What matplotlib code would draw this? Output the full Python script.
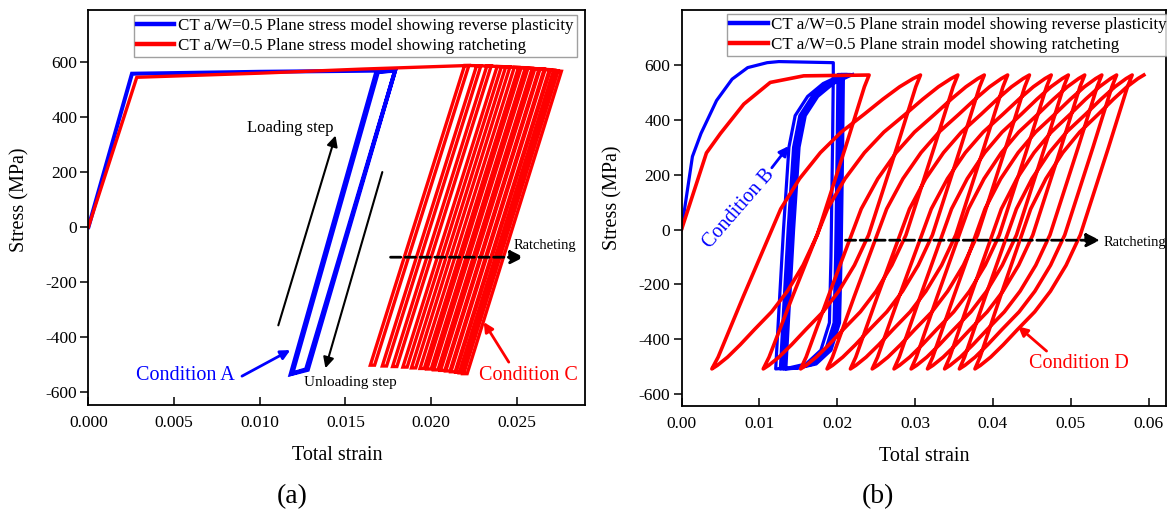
import numpy as np
import matplotlib.pyplot as plt

plt.rcParams['font.family'] = ['Liberation Serif', 'DejaVu Serif']
plt.rcParams['axes.unicode_minus'] = False

BLUE = '#0000ff'
RED = '#ff0000'

# ---------------- (a) plane stress ----------------
# reverse plasticity: monotonic loading then a stable thin loop
ps_rp_strain = [0.0, 0.00254, 0.0100, 0.0150, 0.0179, 0.0127, 0.0119, 0.0169, 0.0179,
                0.0128, 0.0118, 0.0168, 0.0177]
ps_rp_stress = [0, 558, 565, 568, 570, -518, -533, 565, 570, -520, -536, 565, 568]

# ratcheting: monotonic loading, then per cycle: unload from top-right to bottom-right,
# reverse yield to bottom-left, reload to top-left, forward yield to next top-right
ps_rat_load_strain = [0.0, 0.00282, 0.0100, 0.0160]
ps_rat_load_stress = [0, 545, 560, 575]
ps_rat_top_right = [0.0222, 0.0229, 0.0235, 0.0241, 0.0246, 0.0251, 0.0255, 0.0259,
                    0.0263, 0.0266, 0.0269, 0.0272, 0.0274, 0.0276]
ps_rat_bot_right = [0.0167, 0.0174, 0.0180, 0.0186, 0.0191, 0.0196, 0.0200, 0.0204,
                    0.0208, 0.0211, 0.0214, 0.0217, 0.0219, 0.0221]
ps_rat_bot_left = [0.01645, 0.01715, 0.01775, 0.01835, 0.01885, 0.01935, 0.01975, 0.02015,
                   0.02055, 0.02085, 0.02115, 0.02145, 0.02165, 0.02185]
ps_rat_top_left = [0.02195, 0.02265, 0.02325, 0.02385, 0.02435, 0.02485, 0.02525, 0.02565,
                   0.02605, 0.02635, 0.02665, 0.02695, 0.02715, 0.02735]
ps_rat_top_stress = [588, 587, 586, 584, 583, 581, 580, 578, 576, 575, 573, 571, 569, 567]
ps_rat_bot_stress = [-503, -506, -508, -510, -513, -515, -517, -520, -522, -524, -527,
                     -529, -531, -534]

# ---------------- (b) plane strain ----------------
pe_rp_load_strain = [0.0, 0.0014, 0.0025, 0.0045, 0.0065, 0.0085, 0.0110, 0.0125, 0.0160, 0.0195]
pe_rp_load_stress = [0, 266, 350, 470, 548, 590, 608, 612, 610, 608]
pe_rp_loop_strain = [0.0195, 0.0194, 0.0192, 0.0190, 0.0179, 0.0160, 0.0137, 0.0121,
                     0.0125, 0.0131, 0.0138, 0.0146, 0.0162, 0.0182, 0.0200, 0.0207]
pe_rp_loop_stress = [565, 300, -100, -340, -440, -490, -505, -508,
                     -300, 0, 300, 415, 485, 532, 556, 565]
pe_rp_shift = [0.0, 0.0006, 0.0010, 0.0013]

pe_rat_load_strain = [0.0, 0.0032, 0.0050, 0.0080, 0.0114, 0.0157, 0.0241]
pe_rat_load_stress = [0, 279, 350, 457, 536, 560, 563]
# branch shapes as fraction of the peak-to-valley strain span
pe_branch_frac = [0.0, 0.03, 0.15, 0.33, 0.42, 0.52, 0.62, 0.73, 0.82, 0.90, 0.965, 1.0]
pe_unload_s = [563, 520, 300, -20, -130, -225, -300, -365, -420, -465, -495, -508]
pe_reload_s = [-508, -465, -245, 75, 185, 280, 355, 420, 475, 520, 550, 563]
pe_rat_top = [0.0241, 0.0307, 0.0355, 0.0389, 0.0419, 0.0447, 0.0475, 0.0497,
              0.0518, 0.0540, 0.0559, 0.0579, 0.0594]
pe_rat_bot = [0.0039, 0.0105, 0.0153, 0.0187, 0.0217, 0.0245, 0.0273, 0.0295,
              0.0316, 0.0338, 0.0357, 0.0377]

fig = plt.figure(figsize=(11.67, 5.15), dpi=100)
ax1 = fig.add_axes([0.0758, 0.2136, 0.4258, 0.767])
ax2 = fig.add_axes([0.584, 0.2107, 0.4155, 0.7699])

# (a)
ax1.plot(ps_rp_strain, ps_rp_stress, color=BLUE, lw=2.9, solid_joinstyle='miter',
         label='CT a/W=0.5 Plane stress model showing reverse plasticity')
rx = list(ps_rat_load_strain)
ry = list(ps_rat_load_stress)
for tr, br, bl, tl, ts, bs in zip(ps_rat_top_right, ps_rat_bot_right, ps_rat_bot_left,
                                  ps_rat_top_left, ps_rat_top_stress, ps_rat_bot_stress):
    rx += [tr, br, bl, tl]
    ry += [ts, bs, bs, ts]
ax1.plot(rx, ry, color=RED, lw=2.4, solid_joinstyle='miter',
         label='CT a/W=0.5 Plane stress model showing ratcheting')

# (b)
bx = list(pe_rp_load_strain)
by = list(pe_rp_load_stress)
for sh in pe_rp_shift:
    bx += [e + sh for e in pe_rp_loop_strain]
    by += pe_rp_loop_stress
ax2.plot(bx, by, color=BLUE, lw=2.3,
         label='CT a/W=0.5 Plane strain model showing reverse plasticity')

rx = list(pe_rat_load_strain)
ry = list(pe_rat_load_stress)
for i, b in enumerate(pe_rat_bot):
    t = pe_rat_top[i]
    t_next = pe_rat_top[i + 1]
    rx += [t - f * (t - b) for f in pe_branch_frac[1:]]
    ry += pe_unload_s[1:]
    rx += [b + f * (t_next - b) for f in pe_branch_frac[1:]]
    ry += pe_reload_s[1:]
ax2.plot(rx, ry, color=RED, lw=2.6,
         label='CT a/W=0.5 Plane strain model showing ratcheting')

for ax, x0, y0 in ((ax1, 0.091, 0.988), (ax2, 0.094, 0.99)):
    ax.set_yticks([-600, -400, -200, 0, 200, 400, 600])
    ax.tick_params(axis='y', direction='out', length=6, width=1.1, labelsize=12.5, pad=2)
    ax.tick_params(axis='x', direction='in', length=6, width=1.1, labelsize=12.5, pad=7)
    for s in ax.spines.values():
        s.set_linewidth(1.3)
    ax.set_xlabel('Total strain', fontsize=14.5, labelpad=11)
    ax.set_ylabel('Stress (MPa)', fontsize=14.5)
    leg = ax.legend(loc='upper left', bbox_to_anchor=(x0, y0), fontsize=12.2,
                    frameon=True, fancybox=False, handlelength=2.2, handletextpad=0.2,
                    borderpad=0.2, labelspacing=0.2, borderaxespad=0.0)
    leg.get_frame().set_edgecolor('#888888')
    leg.get_frame().set_linewidth(1.0)
    for h in leg.get_lines():
        h.set_linewidth(3.2)

ax1.set_xlim(0, 0.029)
ax1.set_ylim(-648, 790)
ax1.set_xticks([0.0, 0.005, 0.010, 0.015, 0.020, 0.025])
ax1.set_xticklabels(['0.000', '0.005', '0.010', '0.015', '0.020', '0.025'])
ax1.yaxis.set_label_coords(-0.118, 0.519)

ax2.set_xlim(0, 0.0623)
ax2.set_ylim(-645, 800)
ax2.set_xticks([0.0, 0.01, 0.02, 0.03, 0.04, 0.05, 0.06])
ax2.set_xticklabels(['0.00', '0.01', '0.02', '0.03', '0.04', '0.05', '0.06'])
ax2.yaxis.set_label_coords(-0.1227, 0.526)

arr = dict(arrowstyle='-|>', color='k', lw=1.5, mutation_scale=16, shrinkA=0, shrinkB=0)
ax1.annotate('', xy=(0.01442, 333), xytext=(0.01108, -358), arrowprops=arr)
ax1.text(0.01178, 362, 'Loading step', fontsize=12, ha='center', va='center')
ax1.annotate('', xy=(0.01383, -514), xytext=(0.01715, 200), arrowprops=arr)
ax1.text(0.01529, -565, 'Unloading step', fontsize=11, ha='center', va='center')
ax1.annotate('', xy=(0.02541, -110), xytext=(0.01763, -110),
             arrowprops=dict(arrowstyle='-|>', color='k', lw=2, ls='--',
                             mutation_scale=20, shrinkA=0, shrinkB=0))
ax1.text(0.02482, -67, 'Ratcheting', fontsize=10.5, ha='left', va='center')
ax1.text(0.00564, -539, 'Condition A', fontsize=14.5, color=BLUE, ha='center', va='center')
ax1.annotate('', xy=(0.01178, -448), xytext=(0.00896, -543),
             arrowprops=dict(arrowstyle='-|>', color=BLUE, lw=2, mutation_scale=14,
                             shrinkA=0, shrinkB=0))
ax1.text(0.0257, -539, 'Condition C', fontsize=14.5, color=RED, ha='center', va='center')
ax1.annotate('', xy=(0.02307, -346), xytext=(0.02453, -492),
             arrowprops=dict(arrowstyle='-|>', color=RED, lw=2, mutation_scale=14,
                             shrinkA=0, shrinkB=0))

ax2.text(0.00735, 77, 'Condition B', fontsize=14.5, color=BLUE, ha='center', va='center',
         rotation=49)
ax2.annotate('', xy=(0.01376, 304), xytext=(0.0116, 225),
             arrowprops=dict(arrowstyle='-|>', color=BLUE, lw=2, mutation_scale=14,
                             shrinkA=0, shrinkB=0))
ax2.annotate('', xy=(0.05376, -39), xytext=(0.02106, -39),
             arrowprops=dict(arrowstyle='-|>', color='k', lw=2, ls='--',
                             mutation_scale=20, shrinkA=0, shrinkB=0))
ax2.text(0.05427, -46, 'Ratcheting', fontsize=10.5, ha='left', va='center')
ax2.text(0.0511, -490, 'Condition D', fontsize=14.5, color=RED, ha='center', va='center')
ax2.annotate('', xy=(0.04324, -353), xytext=(0.0469, -443),
             arrowprops=dict(arrowstyle='-|>', color=RED, lw=2, mutation_scale=14,
                             shrinkA=0, shrinkB=0))

fig.text(292 / 1167, 1 - 497 / 515, '(a)', fontsize=20, ha='center', va='center')
fig.text(878 / 1167, 1 - 497 / 515, '(b)', fontsize=20, ha='center', va='center')

fig.savefig('out.png', dpi=100)
